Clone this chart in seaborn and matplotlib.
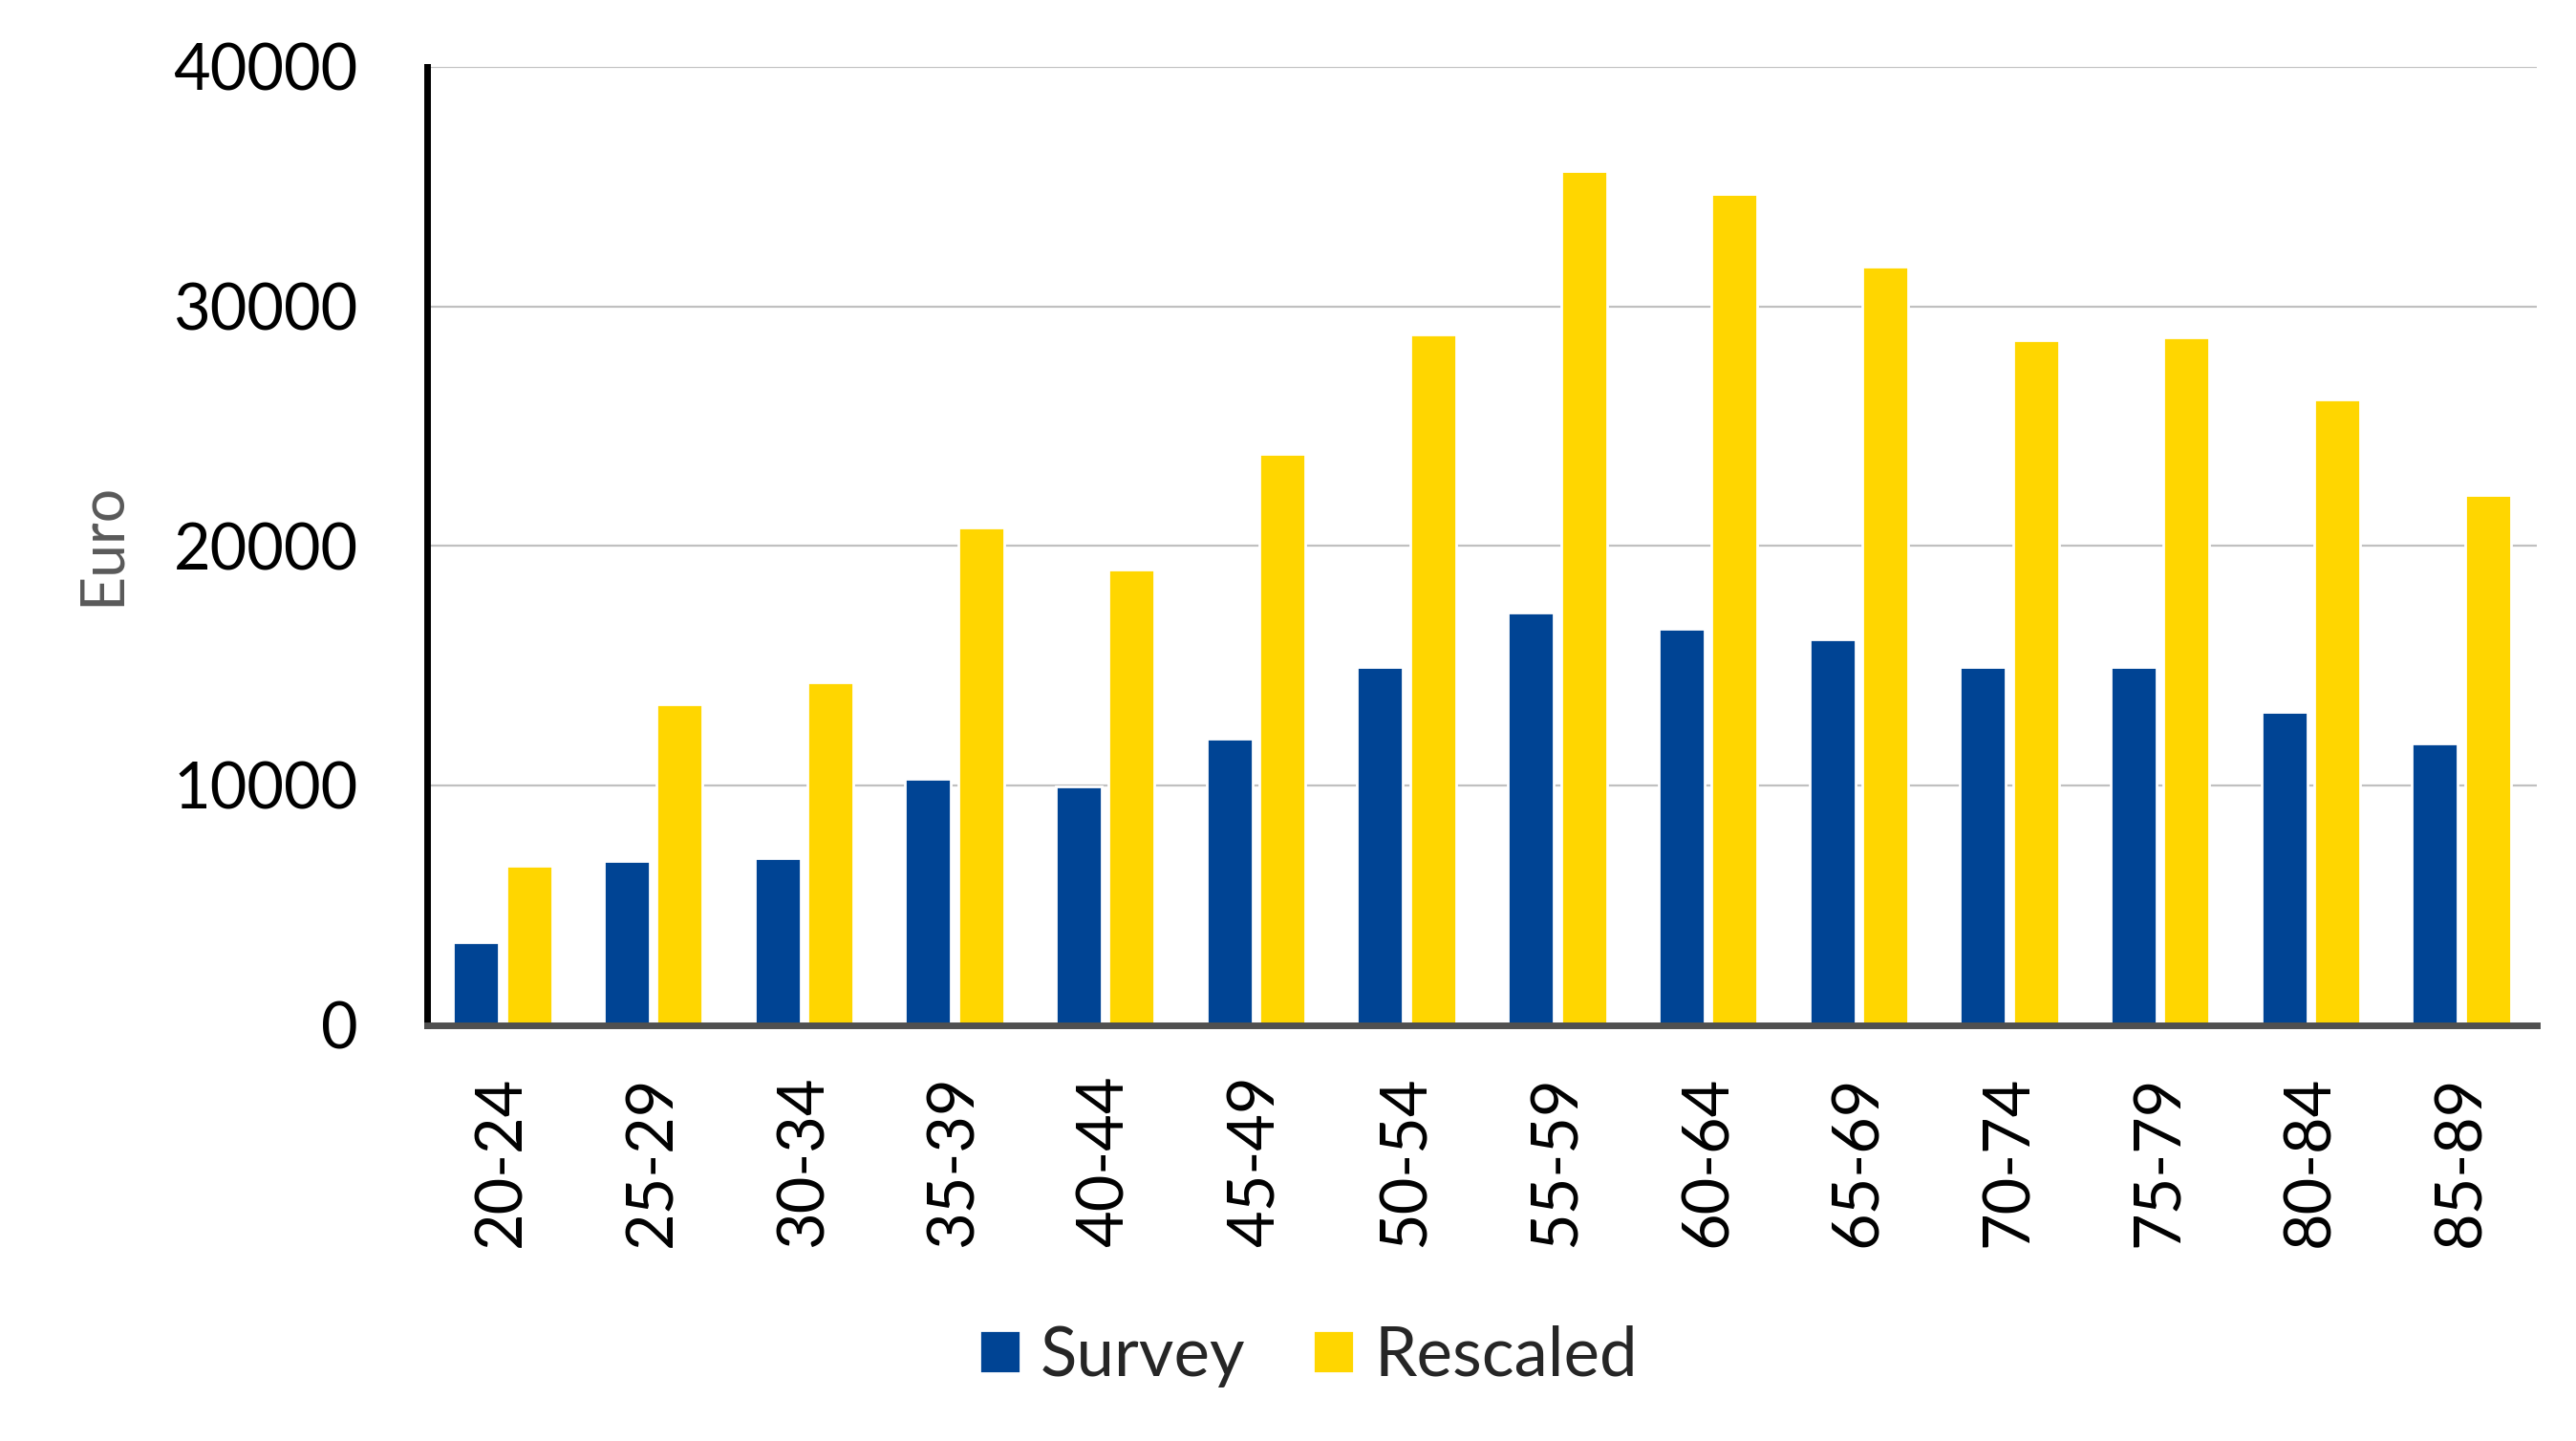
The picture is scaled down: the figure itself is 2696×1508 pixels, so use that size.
import matplotlib
matplotlib.use("Agg")
import matplotlib.pyplot as plt
import seaborn as sns
import pandas as pd

age_groups = ["20-24", "25-29", "30-34", "35-39", "40-44", "45-49", "50-54",
              "55-59", "60-64", "65-69", "70-74", "75-79", "80-84", "85-89"]
survey = [3450, 6860, 6970, 10280, 9970, 11960, 14960,
          17200, 16550, 16080, 14960, 14960, 13080, 11740]
rescaled = [6640, 13390, 14310, 20780, 19020, 23840, 28820,
            35660, 34710, 31680, 28600, 28710, 26130, 22130]
series_names = ["Survey", "Rescaled"]
colors = ["#004494", "#FFD600"]
y_ticks = [0, 10000, 20000, 30000, 40000]

df = pd.DataFrame({
    "age": age_groups * 2,
    "value": survey + rescaled,
    "series": [series_names[0]] * len(age_groups) + [series_names[1]] * len(age_groups),
})

sns.set_theme(style="white")
plt.rcParams["font.family"] = ["Lato", "DejaVu Sans"]

W, H = 2696, 1508
fig = plt.figure(figsize=(W / 200, H / 200), dpi=200)
ax = fig.add_axes([447 / W, 1 - 1072.5 / H, (2655 - 447) / W, (1072.5 - 70) / H])

sns.barplot(data=df, x="age", y="value", hue="series", palette=colors,
            width=0.703, gap=0.135, saturation=1, ax=ax, zorder=2)

ax.set_xlim(-0.5, len(age_groups) - 0.5)
ax.set_ylim(0, 40000)
ax.set_yticks(y_ticks)
ax.set_yticklabels([str(v) for v in y_ticks])
ax.yaxis.grid(True, color="#c0c0c0", linewidth=0.8, zorder=0)
ax.xaxis.grid(False)
ax.set_axisbelow(True)

ax.tick_params(axis="y", length=0, pad=26, labelsize=24, labelcolor="black")
ax.tick_params(axis="x", length=0, pad=19, labelsize=24, labelcolor="black", rotation=90)

for s in ["top", "right"]:
    ax.spines[s].set_visible(False)
ax.spines["left"].set_color("black")
ax.spines["left"].set_linewidth(2.5)
ax.spines["bottom"].set_color("#505050")
ax.spines["bottom"].set_linewidth(2.5)
ax.spines["bottom"].set_zorder(5)
ax.spines["left"].set_zorder(5)

ax.set_xlabel("")
ax.set_ylabel("Euro", fontsize=22.5, color="#595959")
ax.yaxis.set_label_coords(-0.141, 0.502)

handles, labels = ax.get_legend_handles_labels()
ax.get_legend().remove()
fig.legend(handles, labels, loc="center", bbox_to_anchor=(0.508, 0.059), ncol=2,
           frameon=False, fontsize=25.5, handlelength=0.6, handleheight=0.6,
           handletextpad=0.3, columnspacing=1.0)

fig.savefig("out.png", dpi=200)
